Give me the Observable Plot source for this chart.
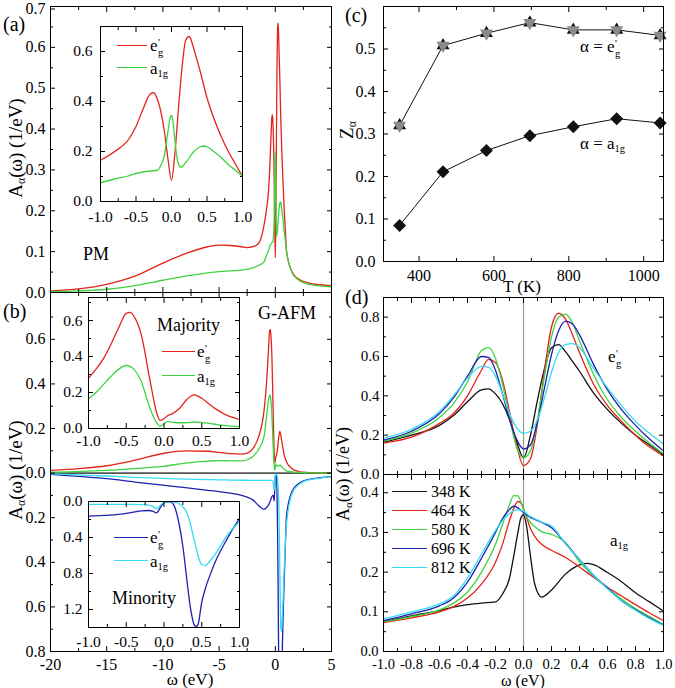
<!DOCTYPE html>
<html><head><meta charset="utf-8">
<script src="https://cdn.jsdelivr.net/npm/d3@7"></script>
<script src="https://cdn.jsdelivr.net/npm/@observablehq/plot@0.6"></script>
<style>
body{margin:0;background:#fff;font-family:"Liberation Serif","Times New Roman",serif;}
#fig{position:relative;width:675px;height:688px;overflow:hidden;font-family:"Liberation Serif","Times New Roman",serif;color:#000;background:#fff;}
#fig svg{position:absolute;}
#fig svg text{font-family:"Liberation Serif","Times New Roman",serif !important;}
.lbl{position:absolute;white-space:nowrap;line-height:1;}
.c{transform:translate(-50%,-50%);}
.l{transform:translate(0,-50%);}
.rot{transform:translate(-50%,-50%) rotate(-90deg);}
.sb{font-size:0.62em;vertical-align:-0.3em;line-height:0;}
.eg{display:inline-flex;flex-direction:column;align-items:flex-start;font-size:0.62em;line-height:0.95;vertical-align:middle;position:relative;top:0.12em;margin-left:0.05em;}
.sw{position:absolute;height:0;border-top-width:1.5px;border-top-style:solid;}
</style></head><body><div id="fig"></div><script>
// ---------- colours ----------
const RED="#e3241b", GREEN="#3fd43f", BLUE="#1f1fb0", CYAN="#35dcf2", BLACK="#111111", GRAY="#8a8a8a";

// ---------- panel (d): temperature series, e_g' ----------
const omegaD = [-1,-0.8,-0.6,-0.5,-0.4,-0.3,-0.25,-0.2,-0.15,-0.1,-0.05,0,0.05,0.1,0.15,0.2,0.25,0.3,0.35,0.4,0.5,0.6,0.7,0.8,0.9,1.0];
const eg348 = [0.165,0.20,0.25,0.30,0.37,0.43,0.435,0.41,0.36,0.28,0.17,0.085,0.20,0.38,0.54,0.645,0.66,0.625,0.575,0.525,0.415,0.33,0.26,0.20,0.15,0.10];
const eg464 = [0.16,0.19,0.26,0.31,0.40,0.53,0.585,0.57,0.48,0.32,0.15,0.045,0.08,0.26,0.53,0.75,0.82,0.79,0.71,0.62,0.46,0.35,0.27,0.20,0.14,0.095];
const eg580 = [0.17,0.21,0.29,0.36,0.47,0.63,0.645,0.59,0.46,0.29,0.14,0.085,0.12,0.28,0.50,0.70,0.80,0.815,0.77,0.68,0.51,0.38,0.29,0.22,0.16,0.105];
const eg696 = [0.175,0.22,0.31,0.39,0.50,0.60,0.595,0.53,0.41,0.28,0.18,0.13,0.15,0.27,0.44,0.61,0.73,0.78,0.765,0.71,0.56,0.43,0.33,0.25,0.18,0.12];
const eg812 = [0.185,0.23,0.32,0.40,0.49,0.55,0.545,0.50,0.41,0.31,0.24,0.21,0.22,0.28,0.39,0.52,0.62,0.66,0.665,0.645,0.54,0.44,0.35,0.27,0.21,0.155];
// ---------- panel (d): a_1g ----------
const omegaDa = [-1,-0.8,-0.6,-0.5,-0.4,-0.3,-0.2,-0.15,-0.1,-0.07,-0.04,-0.02,0,0.02,0.05,0.08,0.13,0.2,0.3,0.4,0.45,0.5,0.6,0.7,0.8,0.9,1.0];
const a348 = [0.075,0.09,0.103,0.112,0.118,0.122,0.125,0.145,0.185,0.24,0.30,0.335,0.345,0.32,0.24,0.17,0.137,0.155,0.195,0.218,0.222,0.219,0.199,0.176,0.148,0.125,0.102];
const a464 = [0.073,0.085,0.10,0.113,0.135,0.17,0.225,0.27,0.33,0.36,0.378,0.375,0.36,0.34,0.31,0.29,0.27,0.255,0.237,0.213,0.2,0.187,0.162,0.14,0.118,0.097,0.078];
const a580 = [0.075,0.088,0.105,0.122,0.15,0.2,0.27,0.32,0.37,0.393,0.392,0.378,0.36,0.342,0.325,0.315,0.302,0.295,0.275,0.226,0.207,0.19,0.16,0.132,0.108,0.088,0.068];
const a696 = [0.078,0.095,0.115,0.135,0.175,0.235,0.30,0.335,0.358,0.366,0.362,0.356,0.35,0.345,0.338,0.333,0.325,0.312,0.272,0.232,0.212,0.192,0.16,0.128,0.105,0.085,0.067];
const a812 = [0.082,0.1,0.12,0.14,0.185,0.245,0.305,0.33,0.348,0.355,0.357,0.356,0.353,0.348,0.34,0.335,0.326,0.316,0.272,0.232,0.212,0.192,0.158,0.128,0.104,0.083,0.066];
const tempLabels = ["348 K","464 K","580 K","696 K","812 K"];
const tempColors = [BLACK, RED, GREEN, BLUE, CYAN];

// ---------- wide-range tails (panels a, b) ----------
const omegaLeft = [-20,-17.5,-15,-12.5,-10,-8,-6,-5,-4,-3,-2.5,-2,-1.5];
const omegaRight = [1.5,2,2.5,3,4,5];
// PM (a): inner region = 348 K curves
const egPMLeft  = [0.004,0.009,0.02,0.04,0.072,0.095,0.112,0.116,0.115,0.112,0.11,0.112,0.12];
const egPMRight = [0.05,0.034,0.027,0.023,0.019,0.017];
const a1gPMLeft  = [0.002,0.004,0.008,0.017,0.03,0.04,0.048,0.051,0.053,0.055,0.057,0.06,0.066];
const a1gPMRight = [0.048,0.032,0.024,0.02,0.016,0.014];
// G-AFM majority
const omegaMaj = [-1,-0.9,-0.8,-0.7,-0.6,-0.5,-0.45,-0.4,-0.3,-0.2,-0.15,-0.1,-0.05,0,0.05,0.1,0.2,0.3,0.4,0.5,0.6,0.7,0.8,0.9,1.0];
const egMaj  = [0.28,0.33,0.39,0.47,0.56,0.64,0.645,0.625,0.52,0.3,0.19,0.09,0.045,0.055,0.072,0.08,0.11,0.16,0.187,0.168,0.135,0.105,0.08,0.063,0.05];
const a1gMaj = [0.165,0.2,0.245,0.29,0.33,0.35,0.345,0.33,0.26,0.13,0.075,0.035,0.014,0.025,0.04,0.035,0.032,0.033,0.036,0.033,0.028,0.022,0.017,0.013,0.01];
const egMajLeft  = [0.012,0.02,0.033,0.058,0.088,0.1,0.098,0.093,0.087,0.085,0.09,0.11,0.16];
const egMajRight = [0.02,0.008,0.004,0.002,0.001,0.0];
const a1gMajLeft  = [0.004,0.007,0.012,0.02,0.03,0.045,0.054,0.056,0.055,0.055,0.06,0.075,0.105];
const a1gMajRight = [0.005,0.003,0.002,0.001,0.0005,0];
// G-AFM minority (magnitudes)
const omegaMin = [-1,-0.8,-0.6,-0.4,-0.3,-0.2,-0.15,-0.1,-0.05,0,0.05,0.1,0.15,0.2,0.25,0.3,0.35,0.4,0.43,0.45,0.5,0.55,0.6,0.7,0.8,0.9,1.0];
const egMin  = [0.163,0.155,0.143,0.118,0.105,0.1,0.108,0.126,0.07,0.015,0.003,0.01,0.08,0.25,0.5,0.85,1.18,1.37,1.39,1.37,1.12,0.96,0.84,0.63,0.47,0.32,0.19];
const a1gMin = [0.033,0.033,0.033,0.033,0.034,0.04,0.055,0.078,0.045,0.01,0.003,0.004,0.01,0.025,0.06,0.12,0.25,0.43,0.53,0.6,0.7,0.71,0.67,0.56,0.42,0.31,0.226];
const egMinLeft  = [0.005,0.015,0.025,0.04,0.054,0.065,0.077,0.083,0.09,0.1,0.108,0.12,0.145];
const egMinRight = [0.08,0.05,0.035,0.028,0.02,0.016];
const a1gMinLeft  = [0.003,0.008,0.013,0.019,0.024,0.027,0.029,0.03,0.031,0.032,0.032,0.033,0.033];
const a1gMinRight = [0.09,0.055,0.038,0.03,0.022,0.017];

// ---------- panel (c) ----------
const temps = [348,464,580,696,812,928,1044];
const zEg   = [0.32,0.508,0.537,0.562,0.545,0.545,0.532];
const zA1g  = [0.085,0.211,0.261,0.296,0.317,0.336,0.326];

// ---------- ticks ----------
const wideMajor = [-20,-15,-10,-5,0,5], wideMinor = [-17.5,-12.5,-7.5,-2.5,2.5];
const insMajor = [-1,-0.5,0,0.5,1], insMinor = [-0.75,-0.25,0.25,0.75];
const dMajor = [-1,-0.8,-0.6,-0.4,-0.2,0,0.2,0.4,0.6,0.8,1], dMinor = [-0.9,-0.7,-0.5,-0.3,-0.1,0.1,0.3,0.5,0.7,0.9];
const tMajor = [400,600,800,1000], tMinor = [500,700,900];

const FONT = "Liberation Serif";
const fig = document.getElementById("fig");
const f1 = d => d.toFixed(1);
const none = () => "";

function pts(xs, ys, sign=1){ return xs.map((x,i)=>({x, y: sign*ys[i]})); }
function join(l, inner, r){ return [...l, ...inner, ...r]; }
function curve(xs, ys, color, sign=1, w=1.3){
  return Plot.line(pts(xs, ys, sign), {x:"x", y:"y", stroke:color, strokeWidth:w, curve:"monotone-x", clip:true});
}

function panel(o){
  const mt=4, mr=6, ml=o.ml ?? 52, mb=o.mb ?? 30;
  const t = {fontFamily:FONT, fontSize:o.fs, label:null};
  const ax = [
    Plot.axisX(o.xMajor,{...t,anchor:"bottom",tickSize:-5,tickPadding:o.xPad ?? 12,tickFormat:o.xFmt ?? none}),
    Plot.axisX(o.xMinor,{...t,anchor:"bottom",tickSize:-3,tickFormat:none}),
    Plot.axisX(o.xMajor,{...t,anchor:"top",tickSize:-5,tickFormat:none}),
    Plot.axisX(o.xMinor,{...t,anchor:"top",tickSize:-3,tickFormat:none}),
    Plot.axisY(o.yMajor,{...t,anchor:"left",tickSize:-5,tickPadding:o.yPad ?? 10,tickFormat:o.yFmt ?? f1}),
    Plot.axisY(o.yMinor,{...t,anchor:"left",tickSize:-3,tickFormat:none}),
    Plot.axisY(o.yMajor,{...t,anchor:"right",tickSize:-5,tickFormat:none}),
    Plot.axisY(o.yMinor,{...t,anchor:"right",tickSize:-3,tickFormat:none})
  ];
  if (o.yTop) ax.push(Plot.axisY(o.yTop,{...t,anchor:"left",tickSize:-5,tickPadding:o.yPad ?? 10,tickFormat:o.yFmt ?? f1,dy:2.5}),
                      Plot.axisY(o.yTop,{...t,anchor:"right",tickSize:-5,tickFormat:none}));
  const svg = Plot.plot({
    width: ml+o.fw+mr, height: mt+o.fh+mb,
    marginLeft: ml, marginRight: mr, marginTop: mt, marginBottom: mb,
    x:{domain:o.xDomain,label:null},
    y:{domain:o.yDomain,reverse:!!o.yReverse,label:null},
    style:{background:"transparent",fontFamily:"'Liberation Serif', serif",fontSize:o.fs+"px",color:"#000",overflow:"visible"},
    marks:[...(o.bg?[Plot.frame({fill:"white",stroke:null})]:[]), ...o.marks, ...ax, Plot.frame({stroke:"#000",strokeWidth:1})]
  });
  svg.style.left=(o.fx-ml)+"px"; svg.style.top=(o.fy-mt)+"px";
  fig.appendChild(svg);
}

// custom symbols
const triUp = {draw(c,s){const R=Math.sqrt(s/Math.PI);c.moveTo(0,-R);c.lineTo(R*0.866,R/2);c.lineTo(-R*0.866,R/2);c.closePath();}};
const triDown = {draw(c,s){const R=Math.sqrt(s/Math.PI);c.moveTo(0,R);c.lineTo(R*0.866,-R/2);c.lineTo(-R*0.866,-R/2);c.closePath();}};
const diamond = {draw(c,s){const R=Math.sqrt(s/Math.PI);c.moveTo(0,-R);c.lineTo(R,0);c.lineTo(0,R);c.lineTo(-R,0);c.closePath();}};

// ---------- (a) PM main ----------
panel({fx:50, fy:6, fw:281, fh:286, xDomain:[-20,5], yDomain:[0,0.7], fs:16,
  xMajor:wideMajor, xMinor:wideMinor, xFmt:none,
  yMajor:[0,0.1,0.2,0.3,0.4,0.5,0.6], yTop:[0.7], yMinor:[0.05,0.15,0.25,0.35,0.45,0.55,0.65], yPad:10,
  marks:[
    curve(join(omegaLeft,omegaD,omegaRight), join(egPMLeft,eg348,egPMRight), RED),
    curve(join(omegaLeft,omegaDa,omegaRight), join(a1gPMLeft,a348,a1gPMRight), GREEN)
  ]});
// ---------- (b) G-AFM main ----------
panel({fx:50, fy:292, fw:281, fh:359, xDomain:[-20,5], yDomain:[-0.8,0.81], fs:16,
  xMajor:wideMajor, xMinor:wideMinor, xFmt:d=>String(d), xPad:12,
  yMajor:[-0.8,-0.6,-0.4,-0.2,0,0.2,0.4,0.6], yMinor:[-0.7,-0.5,-0.3,-0.1,0.1,0.3,0.5,0.7], yFmt:d=>Math.abs(d).toFixed(1), yPad:10,
  marks:[
    Plot.ruleY([0],{stroke:"#555",strokeWidth:1.6}),
    curve(join(omegaLeft,omegaMaj,omegaRight), join(egMajLeft,egMaj,egMajRight), RED),
    curve(join(omegaLeft,omegaMaj,omegaRight), join(a1gMajLeft,a1gMaj,a1gMajRight), GREEN),
    curve(join(omegaLeft,omegaMin,omegaRight), join(egMinLeft,egMin,egMinRight), BLUE, -1),
    curve(join(omegaLeft,omegaMin,omegaRight), join(a1gMinLeft,a1gMin,a1gMinRight), CYAN, -1)
  ]});
// ---------- (a) inset ----------
panel({fx:100, fy:26, fw:142, fh:175, xDomain:[-1,1], yDomain:[0,0.7], fs:15.5, bg:true,
  xMajor:insMajor, xMinor:insMinor, xFmt:f1, xPad:14,
  yMajor:[0,0.2,0.4,0.6], yMinor:[0.1,0.3,0.5], yPad:13,
  marks:[curve(omegaD, eg348, RED), curve(omegaDa, a348, GREEN)]});
// ---------- (b) majority inset ----------
panel({fx:88, fy:297, fw:151, fh:131, xDomain:[-1,1], yDomain:[0,0.728], fs:15.5, bg:true,
  xMajor:insMajor, xMinor:insMinor, xFmt:f1, xPad:11,
  yMajor:[0,0.2,0.4,0.6], yMinor:[0.1,0.3,0.5,0.7], yPad:11,
  marks:[curve(omegaMaj, egMaj, RED), curve(omegaMaj, a1gMaj, GREEN)]});
// ---------- (b) minority inset ----------
panel({fx:88, fy:501, fw:151, fh:126, xDomain:[-1,1], yDomain:[0,1.4], yReverse:true, fs:15.5, bg:true,
  xMajor:insMajor, xMinor:insMinor, xFmt:f1, xPad:13,
  yMajor:[0,0.4,0.8,1.2], yMinor:[0.2,0.6,1.0], yPad:11,
  marks:[curve(omegaMin, egMin, BLUE), curve(omegaMin, a1gMin, CYAN)]});
// ---------- (c) ----------
panel({fx:383, fy:6, fw:280, fh:255, xDomain:[305,1053], yDomain:[0,0.6], fs:16,
  xMajor:tMajor, xMinor:tMinor, xFmt:d=>String(d), xPad:13,
  yMajor:[0,0.1,0.2,0.3,0.4,0.5], yMinor:[0.05,0.15,0.25,0.35,0.45,0.55], yPad:13,
  marks:[
    Plot.line(pts(temps,zEg),{x:"x",y:"y",stroke:BLACK,strokeWidth:1}),
    Plot.line(pts(temps,zA1g),{x:"x",y:"y",stroke:BLACK,strokeWidth:1}),
    Plot.dot(pts(temps,zEg),{x:"x",y:"y",symbol:triUp,r:7.5,fill:BLACK,stroke:null}),
    Plot.dot(pts(temps,zEg),{x:"x",y:"y",symbol:triDown,r:7.5,fill:GRAY,stroke:null}),
    Plot.dot(pts(temps,zA1g),{x:"x",y:"y",symbol:diamond,r:6.5,fill:BLACK,stroke:null})
  ]});
// ---------- (d) upper e_g' ----------
const egD = [eg348,eg464,eg580,eg696,eg812];
const aD = [a348,a464,a580,a696,a812];
panel({fx:383, fy:297, fw:280, fh:177, xDomain:[-1,1], yDomain:[0,0.9], fs:15,
  xMajor:dMajor, xMinor:dMinor, xFmt:none,
  yMajor:[0,0.2,0.4,0.6,0.8], yMinor:[0.1,0.3,0.5,0.7], yPad:9,
  marks:[Plot.ruleX([0],{stroke:"#999",strokeWidth:1.2}), ...egD.map((s,i)=>curve(omegaD, s, tempColors[i]))]});
// ---------- (d) lower a_1g ----------
panel({fx:383, fy:474, fw:280, fh:177, xDomain:[-1,1], yDomain:[0,0.446], fs:14.5,
  xMajor:dMajor, xMinor:dMinor, xFmt:f1, xPad:12.5,
  yMajor:[0,0.1,0.2,0.3,0.4], yMinor:[0.05,0.15,0.25,0.35], yPad:10,
  marks:[Plot.ruleX([0],{stroke:"#999",strokeWidth:1.2}), ...aD.map((s,i)=>curve(omegaDa, s, tempColors[i]))]});

// ---------- text & legends ----------
function html(str, x, y, cls, size){
  const d=document.createElement("div"); d.className="lbl "+cls;
  d.style.left=x+"px"; d.style.top=y+"px"; d.style.fontSize=size+"px"; d.innerHTML=str; fig.appendChild(d);
}
function swatch(x1,x2,y,color){
  const d=document.createElement("div"); d.className="sw";
  d.style.left=x1+"px"; d.style.top=(y-0.75)+"px"; d.style.width=(x2-x1)+"px"; d.style.borderTopColor=color; fig.appendChild(d);
}
const EG = 'e<span class="eg"><span>\'</span><span>g</span></span>';
const A1G = 'a<span class="sb">1g</span>';
const AW = 'A<span class="sb">α</span>(ω) (1/eV)';

html("(a)", 3, 24, "l", 20);
html("(b)", 3, 311, "l", 20);
html("(c)", 345, 15, "l", 20);
html("(d)", 345, 297, "l", 20);
html("PM", 83, 254, "l", 18);
html("G-AFM", 258, 313, "l", 18);
html("Majority", 157, 325, "l", 18);
html("Minority", 112, 598, "l", 18);
html(AW, 15, 148, "rot", 19);
html(AW, 15, 470, "rot", 19);
html(AW, 343, 474, "rot", 18);
html('Z<span class="sb">α</span>', 346, 130, "rot", 19);
html("ω (eV)", 190, 679, "c", 17);
html("ω (eV)", 523, 680.5, "c", 16);
html("T (K)", 522, 286, "c", 17);
html("α = "+EG, 580, 48, "l", 17);
html("α = "+A1G, 580, 143, "l", 17);
html(EG, 608, 358, "l", 17);
html(A1G, 610, 540, "l", 17);
// inset legends
swatch(117,147,46,RED); html(EG, 150, 47, "l", 17);
swatch(117,147,68,GREEN); html(A1G, 150, 68, "l", 17);
swatch(162,195,352,RED); html(EG, 197, 353, "l", 17);
swatch(162,195,376,GREEN); html(A1G, 197, 376, "l", 17);
swatch(114,148,538,BLUE); html(EG, 150, 539, "l", 17);
swatch(114,148,561,CYAN); html(A1G, 150, 561, "l", 17);
// temperature legend
tempLabels.forEach((t,i)=>{ const y=492+i*19; swatch(392,427,y,tempColors[i]); html(t, 431, y, "l", 16); });
</script></body></html>
